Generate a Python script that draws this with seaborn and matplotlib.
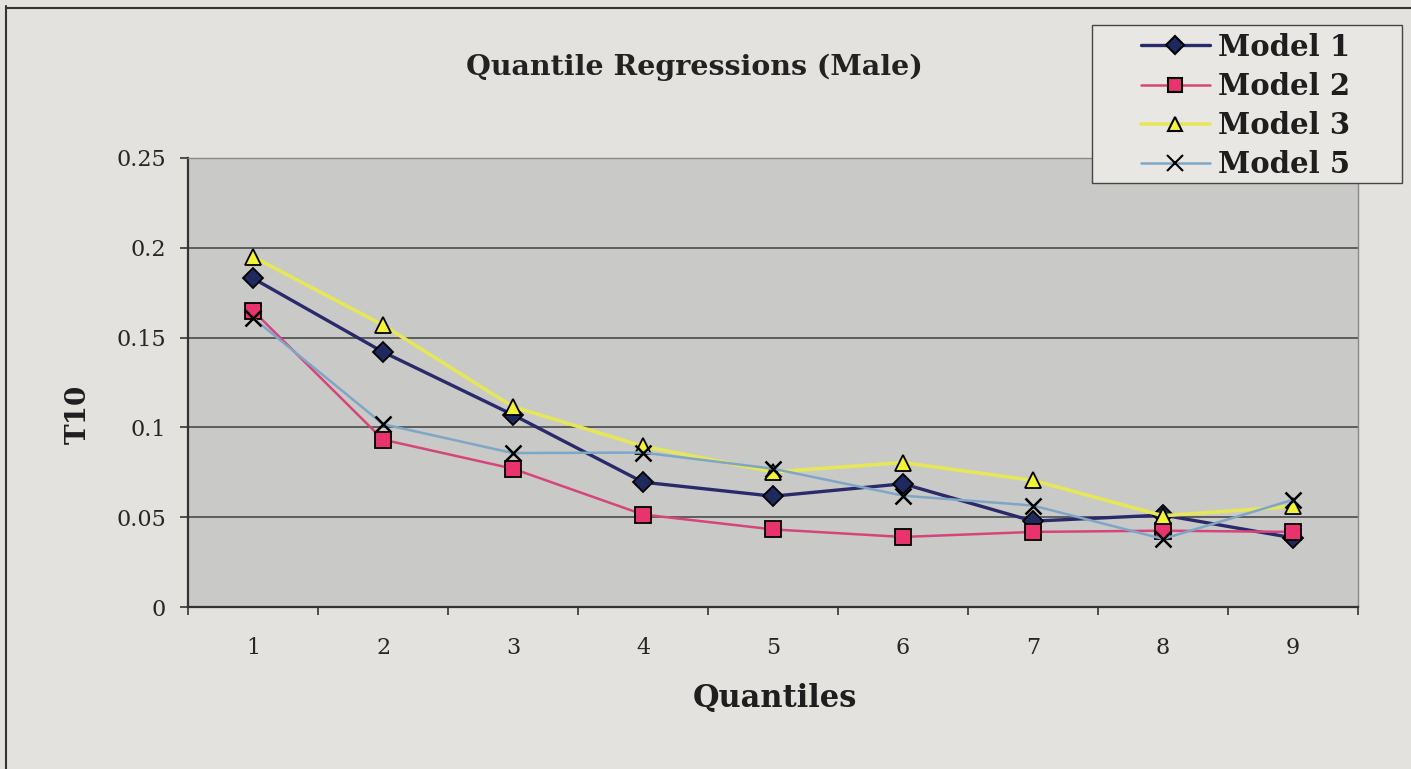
import matplotlib
matplotlib.use("Agg")
import matplotlib.pyplot as plt
from matplotlib.lines import Line2D
from matplotlib.patches import Rectangle
import seaborn as sns
import pandas as pd
import numpy as np

quantiles = [1, 2, 3, 4, 5, 6, 7, 8, 9]
model1 = [0.183, 0.142, 0.107, 0.0695, 0.0617, 0.0686, 0.0478, 0.0512, 0.0385]
model2 = [0.165, 0.0932, 0.077, 0.0515, 0.0432, 0.0390, 0.0418, 0.0425, 0.0418]
model3 = [0.195, 0.157, 0.1115, 0.0895, 0.0752, 0.0804, 0.0705, 0.0508, 0.0560]
model5 = [0.161, 0.1018, 0.0857, 0.0860, 0.0770, 0.0620, 0.0565, 0.0379, 0.0597]
series_names = ["Model 1", "Model 2", "Model 3", "Model 5"]
yticks = [0, 0.05, 0.1, 0.15, 0.2, 0.25]
ytick_labels = ["0", "0.05", "0.1", "0.15", "0.2", "0.25"]

df = pd.DataFrame({
    "Quantiles": quantiles * 4,
    "T10": model1 + model2 + model3 + model5,
    "Model": sum([[n] * len(quantiles) for n in series_names], []),
})

sns.set_style("white")
plt.rcParams["font.family"] = ["DejaVu Serif"]

line_colors = {"Model 1": "#2a2a6a", "Model 2": "#d6457a", "Model 3": "#e6e65a", "Model 5": "#7fa6c6"}
markers = {"Model 1": "D", "Model 2": "s", "Model 3": "^", "Model 5": "x"}
mfc = {"Model 1": "#1e2a5e", "Model 2": "#e8336f", "Model 3": "#f2f23a", "Model 5": "black"}
lw = {"Model 1": 2.4, "Model 2": 1.8, "Model 3": 2.6, "Model 5": 1.8}
ms = {"Model 1": 10, "Model 2": 11, "Model 3": 11, "Model 5": 12}

W, H = 1411, 769
fig = plt.figure(figsize=(14.11, 7.69), dpi=100, facecolor="#e4e2df")
ax = fig.add_axes([188/W, 1-607/H, (1358-188)/W, (607-158)/H])
ax.set_facecolor("#c9c9c8")

for name in series_names:
    sub = df[df["Model"] == name]
    sns.lineplot(data=sub, x="Quantiles", y="T10", ax=ax, color=line_colors[name],
                 linewidth=lw[name], marker=markers[name], markersize=ms[name],
                 markerfacecolor=mfc[name], markeredgecolor="black",
                 markeredgewidth=1.8 if name == "Model 5" else 1.3, legend=False, zorder=3)

ax.set_xlim(0.5, 9.5)
ax.set_ylim(0, 0.25)
ax.set_yticks(yticks)
ax.set_yticklabels(ytick_labels, fontsize=16)
ax.set_xticks(quantiles)
ax.set_xticklabels([str(q) for q in quantiles], fontsize=16)
ax.set_xticks(np.arange(0.5, 10, 1), minor=True)
ax.tick_params(axis="x", which="major", bottom=True, length=0, pad=21.5)
ax.tick_params(axis="x", which="minor", bottom=True, length=6, width=1.2, color="#333333", direction="out")
ax.tick_params(axis="y", which="major", left=True, length=6, width=1.2, color="#333333", direction="out", pad=10)
ax.yaxis.grid(True, color="#4a4a4a", linewidth=1.2)
ax.set_axisbelow(True)
for s in ["left", "bottom"]:
    ax.spines[s].set_color("#333333")
    ax.spines[s].set_linewidth(1.6)
for s in ["top", "right"]:
    ax.spines[s].set_color("#8a8a8a")
    ax.spines[s].set_linewidth(1.0)

ax.set_xlabel("Quantiles", fontsize=22, fontweight="bold", color="#1e1e1e")
ax.xaxis.set_label_coords(0.502, -(683-607)/449)
ax.set_ylabel("T10", fontsize=20, fontweight="bold", color="#1e1e1e")
ax.yaxis.set_label_coords((92-188)/1170, 1-(414-158)/449)
fig.text(694/W, 1-67/H, "Quantile Regressions (Male)", fontsize=20.5, fontweight="bold",
         ha="center", va="center", color="#222222")

# legend box
fig.add_artist(Rectangle((1092/W, 1-183/H), (1402-1092)/W, (183-25)/H, transform=fig.transFigure,
                         facecolor="#e8e7e4", edgecolor="#444444", linewidth=1.0, zorder=5))
handles = [Line2D([0], [0], color=line_colors[n], linewidth=lw[n], marker=markers[n],
                  markersize=ms[n] - 1, markerfacecolor=mfc[n], markeredgecolor="black",
                  markeredgewidth=1.5) for n in series_names]
leg = fig.legend(handles, series_names, loc="center left", bbox_to_anchor=(1141/W, 1-106/H),
                 prop={"family": "DejaVu Serif", "weight": "bold", "size": 21},
                 frameon=False, handlelength=2.36, labelspacing=0.35,
                 borderpad=0, borderaxespad=0, handletextpad=0.27)
leg.set_zorder(6)
for t in leg.get_texts():
    t.set_color("#1e1e1e")

fig.add_artist(Line2D([6/W, 6/W], [0, 1-6/H], transform=fig.transFigure, color="#333333", linewidth=1.5))
fig.add_artist(Line2D([6/W, 1], [1-8/H, 1-8/H], transform=fig.transFigure, color="#333333", linewidth=1.5))

fig.savefig("out.png", dpi=100, facecolor=fig.get_facecolor())
